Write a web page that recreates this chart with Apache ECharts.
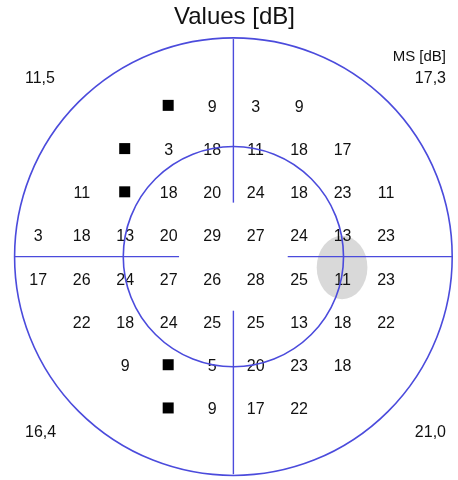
<!DOCTYPE html>
<html>
<head>
<meta charset="utf-8">
<title>Values [dB]</title>
<script src="https://cdn.jsdelivr.net/npm/echarts@6/dist/echarts.min.js"></script>
<style>
  html, body { margin: 0; padding: 0; background: #fff; }
  #chart { width: 458px; height: 480px; }
</style>
</head>
<body>
<div id="chart"></div>
<script>
// 24-2 threshold grid, right eye. Each row: eccentricity (deg) and sensitivities (dB)
// from the leftmost tested location, 6 deg apart. -1 marks a location with no response (< 0 dB).
const rowY      = [21, 15, 9, 3, -3, -9, -15, -21];
const rowStartX = [-9, -15, -21, -27, -27, -21, -15, -9];
const row1 = [-1, 9, 3, 9];
const row2 = [-1, 3, 18, 11, 18, 17];
const row3 = [11, -1, 18, 20, 24, 18, 23, 11];
const row4 = [3, 18, 13, 20, 29, 27, 24, 13, 23];
const row5 = [17, 26, 24, 27, 26, 28, 25, 11, 23];
const row6 = [22, 18, 24, 25, 25, 13, 18, 22];
const row7 = [9, -1, 5, 20, 23, 18];
const row8 = [-1, 9, 17, 22];
const rows = [row1, row2, row3, row4, row5, row6, row7, row8];
const STEP = 6;

// Mean sensitivity per quadrant: top-left, top-right, bottom-left, bottom-right
const msQuadrants = [11.5, 17.3, 16.4, 21.0];

// Field outline (deg): ring radii, meridian segment span, blind spot ellipse [x, y, rx, ry]
const ringRadii = [30.2, 15.2];
const meridianFrom = 7.5, meridianTo = 30.2;
const blindSpot = [[15, -1.5, 3.5, 4.4]];

// Layout: field centre in pixels and pixels per degree
const CX = 234.5, CY = 259, PX = 7.28;
const XMIN = -32, XMAX = 31, YMIN = -31, YMAX = 31;

const LINE = '#4b4bdc';
const TEXT = '#111';
const FONT = '"Liberation Sans", Arial, sans-serif';

const numbers = [], squares = [];
rows.forEach((vals, r) => {
  vals.forEach((v, i) => {
    const pt = [rowStartX[r] + i * STEP, rowY[r], v];
    (v < 0 ? squares : numbers).push(pt);
  });
});

const fmt = v => v.toFixed(1).replace('.', ',');

const chart = echarts.init(document.getElementById('chart'), null, { renderer: 'canvas' });
chart.setOption({
  animation: false,
  backgroundColor: '#fff',
  grid: {
    left: CX + XMIN * PX,
    width: (XMAX - XMIN) * PX,
    top: CY - YMAX * PX,
    height: (YMAX - YMIN) * PX
  },
  xAxis: { type: 'value', min: XMIN, max: XMAX, show: false },
  yAxis: { type: 'value', min: YMIN, max: YMAX, show: false },
  graphic: [
    { type: 'text', x: CX, y: 17, z: 10,
      style: { text: 'Values [dB]', font: '24px ' + FONT, fill: TEXT, textAlign: 'center', textVerticalAlign: 'middle' } },
    { type: 'text', x: 446, y: 57, z: 10,
      style: { text: 'MS [dB]', font: '15px ' + FONT, fill: TEXT, textAlign: 'right', textVerticalAlign: 'middle' } },
    { type: 'text', x: 25, y: 79, z: 10,
      style: { text: fmt(msQuadrants[0]), font: '16px ' + FONT, fill: TEXT, textAlign: 'left', textVerticalAlign: 'middle' } },
    { type: 'text', x: 446, y: 79, z: 10,
      style: { text: fmt(msQuadrants[1]), font: '16px ' + FONT, fill: TEXT, textAlign: 'right', textVerticalAlign: 'middle' } },
    { type: 'text', x: 25, y: 433, z: 10,
      style: { text: fmt(msQuadrants[2]), font: '16px ' + FONT, fill: TEXT, textAlign: 'left', textVerticalAlign: 'middle' } },
    { type: 'text', x: 446, y: 433, z: 10,
      style: { text: fmt(msQuadrants[3]), font: '16px ' + FONT, fill: TEXT, textAlign: 'right', textVerticalAlign: 'middle' } }
  ],
  series: [
    {
      // physiological blind spot
      type: 'custom', z: 1, clip: false, silent: true,
      data: blindSpot,
      encode: { x: 0, y: 1 },
      renderItem: (params, api) => {
        const c = api.coord([api.value(0), api.value(1)]);
        const s = api.size([api.value(2), api.value(3)]);
        return {
          type: 'circle',
          x: c[0], y: c[1], scaleX: s[0], scaleY: s[1],
          shape: { cx: 0, cy: 0, r: 1 },
          style: { fill: '#d9d9d9', stroke: null }
        };
      }
    },
    {
      type: 'scatter', z: 3, silent: true,
      data: numbers,
      symbolSize: 0,
      itemStyle: { opacity: 1 },
      label: {
        show: true, position: 'inside', offset: [0.5, 2],
        formatter: p => String(p.value[2]),
        fontFamily: FONT, fontSize: 16, color: TEXT, opacity: 1,
        align: 'center', verticalAlign: 'middle'
      }
    },
    {
      type: 'scatter', z: 3, silent: true,
      data: squares,
      symbol: 'rect', symbolSize: 11,
      itemStyle: { color: '#000', opacity: 1 }
    },
    {
      // eccentricity rings
      type: 'custom', z: 4, clip: false, silent: true,
      data: ringRadii.map(r => [0, 0, r]),
      encode: { x: 0, y: 1 },
      renderItem: (params, api) => {
        const c = api.coord([0, 0]);
        const r = api.size([api.value(2), 0])[0];
        return {
          type: 'circle',
          shape: { cx: c[0], cy: c[1], r: r },
          style: { fill: 'none', stroke: LINE, lineWidth: 1.6 }
        };
      }
    },
    {
      // horizontal and vertical meridians, interrupted at the centre
      type: 'custom', z: 4, clip: false, silent: true,
      data: [[0, 1], [0, -1], [-1, 0], [1, 0]],
      encode: { x: 0, y: 1 },
      renderItem: (params, api) => {
        const dx = api.value(0), dy = api.value(1);
        const a = api.coord([dx * meridianFrom, dy * meridianFrom]);
        const b = api.coord([dx * meridianTo, dy * meridianTo]);
        return {
          type: 'line',
          shape: { x1: a[0], y1: a[1], x2: b[0], y2: b[1] },
          style: { stroke: LINE, lineWidth: 1.4 }
        };
      }
    }
  ]
});
</script>
</body>
</html>
